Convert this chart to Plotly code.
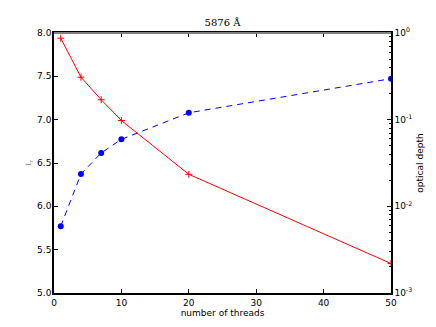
import plotly.graph_objects as go

threads = [1, 4, 7, 10, 20, 50]
intensity = [7.94, 7.49, 7.23, 6.99, 6.37, 5.34]
optical_depth = [0.0059, 0.0236, 0.0413, 0.0593, 0.120, 0.297]

left_ticks = [5.0, 5.5, 6.0, 6.5, 7.0, 7.5, 8.0]
right_ticks = [1e-3, 1e-2, 1e-1, 1]
right_labels = ['10<sup>-3</sup>', '10<sup>-2</sup>', '10<sup>-1</sup>', '10<sup>0</sup>']
right_minor = [m * 10 ** e for e in (-3, -2, -1) for m in range(2, 10)]

fig = go.Figure()
fig.add_trace(go.Scatter(x=threads, y=intensity, mode='lines+markers',
                         line=dict(color='red', width=1),
                         marker=dict(symbol='cross-thin', size=5, line=dict(color='red', width=1)),
                         yaxis='y'))
fig.add_trace(go.Scatter(x=threads, y=optical_depth, mode='lines+markers',
                         line=dict(color='blue', width=1, dash='6px,5px'),
                         marker=dict(symbol='circle', size=6, color='blue'),
                         yaxis='y2'))

tick_font = dict(family='DejaVu Sans', size=9, color='black')

# the page body adds an 8px margin, so the figure is 8px smaller and the margins shifted
fig.update_layout(
    width=428, height=319,
    margin=dict(l=46, r=45, t=25, b=34, autoexpand=False),
    plot_bgcolor='white', paper_bgcolor='white',
    showlegend=False,
    title=dict(text='5876 Å', x=0.5, xanchor='center', xref='paper',
               y=0.965, yanchor='top', yref='container', automargin=False,
               font=dict(family='DejaVu Serif', size=10, color='black')),
    xaxis=dict(range=[0, 50], dtick=10, showgrid=False, zeroline=False, automargin=False,
               showline=True, linecolor='black', linewidth=1.5, mirror='ticks',
               ticks='inside', ticklen=4, tickcolor='black', tickfont=tick_font,
               ticklabelstandoff=0,
               title=dict(text='number of threads', font=tick_font, standoff=1)),
    yaxis=dict(range=[5.0, 8.0], tickvals=left_ticks, ticktext=[f'{v:.1f}' for v in left_ticks],
               showgrid=False, zeroline=False, automargin=False,
               showline=True, linecolor='black', linewidth=1.5,
               ticks='inside', ticklen=4, tickcolor='black', tickfont=tick_font,
               ticklabelstandoff=-1,
               title=dict(text='I<sub>r</sub>', font=dict(family='DejaVu Serif', size=8, color='#888888'),
                          standoff=4)),
    yaxis2=dict(type='log', range=[-3, 0], overlaying='y', side='right', automargin=False,
                tickmode='array', tickvals=right_ticks, ticktext=right_labels,
                showgrid=False, zeroline=False, showline=True, linecolor='black', linewidth=1.5,
                ticks='inside', ticklen=4, tickcolor='black', tickfont=tick_font,
                minor=dict(tickmode='array', tickvals=right_minor, ticks='inside', ticklen=2,
                           tickcolor='black', showgrid=False),
                title=dict(text='optical depth', font=tick_font, standoff=5)),
    shapes=[dict(type='line', xref='paper', yref='paper', x0=0, x1=1, y0=1, y1=1,
                 line=dict(color='gray', width=2))],
)

fig.write_html('out.html')
